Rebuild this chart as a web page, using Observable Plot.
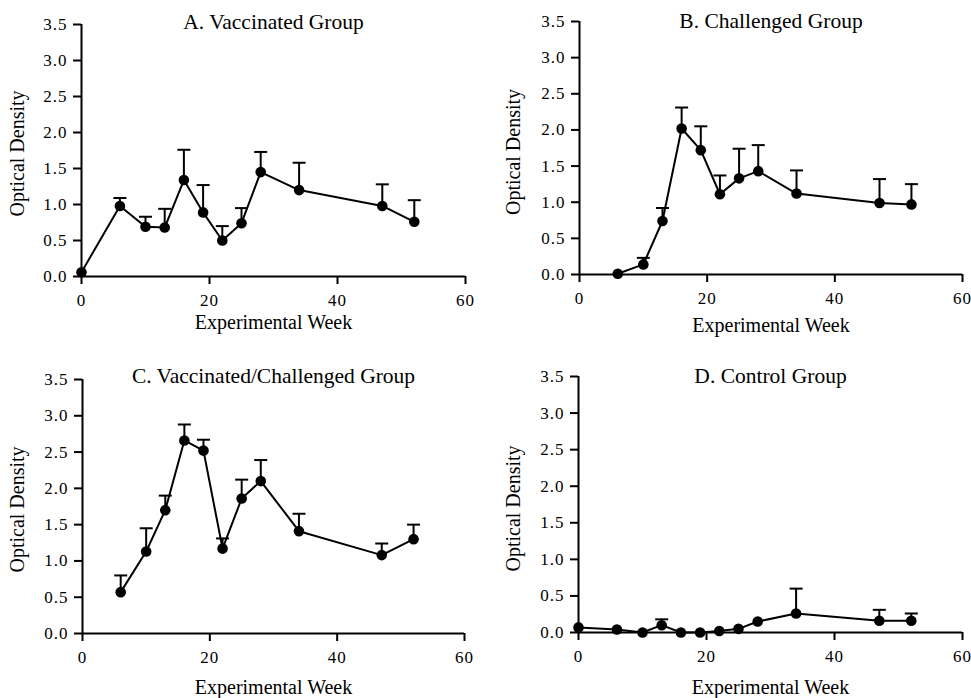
<!DOCTYPE html>
<html>
<head>
<meta charset="utf-8">
<script src="https://cdn.jsdelivr.net/npm/d3@7"></script>
<script src="https://cdn.jsdelivr.net/npm/@observablehq/plot@0.6"></script>
<style>
  html, body { margin: 0; padding: 0; background: white; }
  #root { position: relative; width: 971px; height: 698px; background: white; overflow: hidden; }
  #root > svg { position: absolute; }
  #root svg text { font-family: 'Liberation Serif', 'Times New Roman', serif; }
  #root svg g[aria-label="x-axis tick label"] text,
  #root svg g[aria-label="y-axis tick label"] text { letter-spacing: 1px; }
</style>
</head>
<body>
<div id="root"></div>
<script>
// ---- data ----
const xTicks = [0, 20, 40, 60];
const yTicks = [0, 0.5, 1.0, 1.5, 2.0, 2.5, 3.0, 3.5];
const xLabel = "Experimental Week";
const yLabel = "Optical Density";

const titleA = "A. Vaccinated Group";
const weeksA = [0, 6, 10, 13, 16, 19, 22, 25, 28, 34, 47, 52];
const meanA  = [0.06, 0.98, 0.69, 0.68, 1.34, 0.89, 0.50, 0.74, 1.45, 1.20, 0.98, 0.76];
const upperA = [null, 1.09, 0.83, 0.94, 1.76, 1.27, 0.70, 0.95, 1.73, 1.58, 1.28, 1.06];

const titleB = "B. Challenged Group";
const weeksB = [6, 10, 13, 16, 19, 22, 25, 28, 34, 47, 52];
const meanB  = [0.01, 0.14, 0.74, 2.02, 1.72, 1.11, 1.33, 1.43, 1.12, 0.99, 0.97];
const upperB = [null, 0.23, 0.92, 2.31, 2.05, 1.37, 1.74, 1.79, 1.44, 1.32, 1.25];

const titleC = "C. Vaccinated/Challenged Group";
const weeksC = [6, 10, 13, 16, 19, 22, 25, 28, 34, 47, 52];
const meanC  = [0.57, 1.13, 1.70, 2.66, 2.52, 1.17, 1.86, 2.10, 1.41, 1.08, 1.30];
const upperC = [0.80, 1.45, 1.90, 2.88, 2.67, 1.31, 2.12, 2.39, 1.65, 1.24, 1.50];

const titleD = "D. Control Group";
const weeksD = [0, 6, 10, 13, 16, 19, 22, 25, 28, 34, 47, 52];
const meanD  = [0.07, 0.04, 0.00, 0.10, 0.00, 0.00, 0.02, 0.05, 0.15, 0.26, 0.16, 0.16];
const upperD = [null, null, null, 0.18, null, null, null, null, null, 0.60, 0.31, 0.26];

// ---- drawing ----
const FONT = "'Liberation Serif', 'Times New Roman', serif";
const capSymbol = {
  draw(ctx) { ctx.moveTo(-6.5, 0); ctx.lineTo(6.5, 0); }
};

function panel(cfg) {
  const data = cfg.weeks.map((w, i) => ({week: w, od: cfg.mean[i], up: cfg.upper[i]}));
  const bars = data.filter(d => d.up != null);
  const svg = Plot.plot({
    width: cfg.w,
    height: cfg.h,
    marginLeft: cfg.ml,
    marginRight: cfg.mr,
    marginTop: cfg.mt,
    marginBottom: cfg.mb,
    style: {fontFamily: FONT, fontSize: "17px", color: "black", background: "white", overflow: "visible"},
    x: {domain: [0, 60]},
    y: {domain: [0, 3.5]},
    marks: [
      Plot.axisX({ticks: xTicks, tickSize: 8, tickPadding: 9, label: null, strokeWidth: 2, fontSize: 17, fontFamily: FONT}),
      Plot.axisY({ticks: yTicks, tickFormat: d3.format(".1f"), tickSize: 8, tickPadding: 6, label: null, strokeWidth: 2, fontSize: 17, fontFamily: FONT}),
      Plot.ruleY([0], {stroke: "black", strokeWidth: 2}),
      Plot.ruleX([0], {stroke: "black", strokeWidth: 2}),
      Plot.ruleX(bars, {x: "week", y1: "od", y2: "up", stroke: "black", strokeWidth: 2}),
      Plot.dot(bars, {x: "week", y: "up", symbol: capSymbol, stroke: "black", strokeWidth: 2, r: 5}),
      Plot.line(data, {x: "week", y: "od", stroke: "black", strokeWidth: 2}),
      Plot.dot(data, {x: "week", y: "od", r: 5.3, fill: "black"}),
      Plot.text([cfg.title], {frameAnchor: "top", dy: cfg.titleDy, lineAnchor: "middle", fontSize: 21.5, fill: "black", fontFamily: FONT}),
      Plot.text([xLabel], {frameAnchor: "bottom", dy: cfg.xlDy, lineAnchor: "middle", fontSize: 20, fill: "black", fontFamily: FONT}),
      Plot.text([yLabel], {frameAnchor: "left", dx: cfg.ylDx, dy: cfg.ylDy, rotate: -90, lineAnchor: "middle", textAnchor: "middle", fontSize: 20, fill: "black", fontFamily: FONT})
    ]
  });
  svg.style.left = cfg.left + "px";
  svg.style.top = cfg.top + "px";
  document.getElementById("root").appendChild(svg);
}

panel({title: titleA, weeks: weeksA, mean: meanA, upper: upperA,
  left: 0, top: 0, w: 480, h: 340, ml: 81, mr: 15, mt: 24, mb: 64,
  titleDy: -2, xlDy: 46, ylDx: -64, ylDy: 3});
panel({title: titleB, weeks: weeksB, mean: meanB, upper: upperB,
  left: 480, top: 0, w: 491, h: 340, ml: 99, mr: 9, mt: 21, mb: 66,
  titleDy: 0, xlDy: 51, ylDx: -66, ylDy: 4});
panel({title: titleC, weeks: weeksC, mean: meanC, upper: upperC,
  left: 0, top: 340, w: 480, h: 358, ml: 82, mr: 16, mt: 39, mb: 65,
  titleDy: -3, xlDy: 54, ylDx: -65, ylDy: 3});
panel({title: titleD, weeks: weeksD, mean: meanD, upper: upperD,
  left: 480, top: 340, w: 491, h: 358, ml: 98, mr: 9, mt: 36, mb: 66,
  titleDy: 0, xlDy: 55, ylDx: -65, ylDy: 4});
</script>
</body>
</html>
